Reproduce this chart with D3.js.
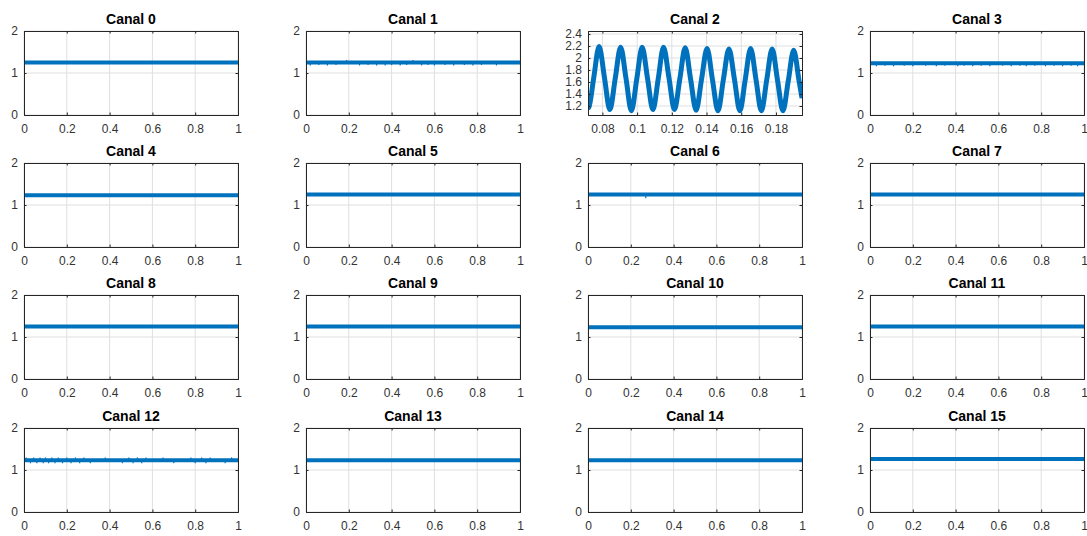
<!DOCTYPE html>
<html>
<head>
<meta charset="utf-8">
<script src="https://cdn.jsdelivr.net/npm/d3@7"></script>
<style>
  body { margin: 0; background: #fff; }
  text { font-family: "Liberation Sans", Arial, sans-serif; }
</style>
</head>
<body>
<script>
// channel titles and the flat level each one sits at (Canal 2 is the sine one)
let titles = ["Canal 0","Canal 1","Canal 2","Canal 3","Canal 4","Canal 5","Canal 6","Canal 7",
              "Canal 8","Canal 9","Canal 10","Canal 11","Canal 12","Canal 13","Canal 14","Canal 15"]
let levels = [1.25, 1.25, null, 1.23, 1.23, 1.25, 1.25, 1.25,
              1.25, 1.25, 1.23, 1.25, 1.23, 1.23, 1.23, 1.26]

// small glitches (time, value at the tip)
let canal1SpikeT = [0.02, 0.06, 0.1, 0.14, 0.19, 0.25, 0.29, 0.33, 0.37, 0.4, 0.44, 0.47, 0.5, 0.54, 0.57, 0.6, 0.65, 0.69, 0.74, 0.78, 0.82, 0.89]
let canal1SpikeV = [1.18, 1.19, 1.18, 1.19, 1.31, 1.18, 1.19, 1.18, 1.18, 1.19, 1.18, 1.19, 1.31, 1.18, 1.19, 1.18, 1.19, 1.18, 1.19, 1.18, 1.19, 1.18]
let canal3SpikeT = [0.03, 0.07, 0.11, 0.16, 0.2, 0.26, 0.31, 0.35, 0.41, 0.44, 0.48, 0.52, 0.56, 0.62, 0.66, 0.7, 0.73, 0.77, 0.82, 0.86, 0.9, 0.94, 0.97]
let canal3SpikeV = [1.16, 1.17, 1.16, 1.17, 1.16, 1.17, 1.16, 1.17, 1.16, 1.17, 1.16, 1.17, 1.16, 1.17, 1.16, 1.17, 1.16, 1.17, 1.16, 1.17, 1.16, 1.17, 1.16]
let canal6SpikeT = [0.27]
let canal6SpikeV = [1.16]
let canal12SpikeT = [0.01, 0.03, 0.045, 0.06, 0.075, 0.09, 0.1, 0.115, 0.13, 0.145, 0.16, 0.18, 0.2, 0.22, 0.24, 0.26, 0.28, 0.31, 0.38, 0.46, 0.49, 0.51, 0.53, 0.55, 0.57, 0.65, 0.7, 0.78, 0.8, 0.83, 0.85, 0.87, 0.94, 0.97]
let canal12SpikeV = [1.30, 1.16, 1.30, 1.16, 1.30, 1.16, 1.30, 1.16, 1.30, 1.16, 1.30, 1.16, 1.30, 1.16, 1.30, 1.16, 1.30, 1.16, 1.30, 1.16, 1.30, 1.16, 1.30, 1.16, 1.30, 1.30, 1.16, 1.30, 1.16, 1.30, 1.16, 1.30, 1.16, 1.30]

// Canal 2: extremes and mid crossings of the oscillation
let canal2T = [0.0717, 0.0722, 0.0750, 0.0781, 0.0812, 0.0843, 0.0874, 0.0905, 0.0936, 0.0967, 0.0998,
               0.1029, 0.1060, 0.1091, 0.1122, 0.1152, 0.1184, 0.1215, 0.1246, 0.1277, 0.1308, 0.1340,
               0.1371, 0.1403, 0.1434, 0.1466, 0.1497, 0.1529, 0.1561, 0.1592, 0.1623, 0.1654, 0.1685,
               0.1716, 0.1747, 0.1778, 0.1809, 0.1840, 0.1871, 0.1902, 0.1933, 0.1950]
let canal2V = [1.17, 1.18, 1.67, 2.19, 1.67, 1.14, 1.66, 2.18, 1.66, 1.12, 1.65,
               2.18, 1.66, 1.14, 1.66, 2.18, 1.66, 1.14, 1.65, 2.17, 1.65, 1.13,
               1.64, 2.16, 1.64, 1.12, 1.64, 2.15, 1.64, 1.12, 1.64, 2.16, 1.64,
               1.12, 1.64, 2.15, 1.63, 1.12, 1.62, 2.13, 1.62, 1.33]

let xTicks = [0, 0.2, 0.4, 0.6, 0.8, 1]
let yTicks = [0, 1, 2]
let canal2XTicks = [0.08, 0.1, 0.12, 0.14, 0.16, 0.18]
let canal2YTicks = [1.2, 1.4, 1.6, 1.8, 2, 2.2, 2.4]
let canal2XDomain = [0.0717, 0.195]
let canal2YDomain = [1.05, 2.45]

let w = 1087
let h = 536
let colLeft = [24, 306, 588, 870]
let rowTop = [31, 163, 295, 428]
let pw = 214
let ph = 84
let blue = "#0072BD"

let svg = d3.select("body").append("svg")
  .attr("width", w)
  .attr("height", h)

let fmt = (d)=> String(+d.toFixed(2))

let spikes = {
  1: [canal1SpikeT, canal1SpikeV],
  3: [canal3SpikeT, canal3SpikeV],
  6: [canal6SpikeT, canal6SpikeV],
  12: [canal12SpikeT, canal12SpikeV]
}

let drawPanel = (k)=>{
  let x0 = colLeft[k % 4]
  let y0 = rowTop[Math.floor(k / 4)]
  let isSine = k === 2

  let xScale = d3.scaleLinear().domain(isSine ? canal2XDomain : [0, 1]).range([x0, x0 + pw])
  let yScale = d3.scaleLinear().domain(isSine ? canal2YDomain : [0, 2]).range([y0 + ph, y0])
  let xt = isSine ? canal2XTicks : xTicks
  let yt = isSine ? canal2YTicks : yTicks

  let g = svg.append("g")

  // grid
  g.selectAll(".gx").data(xt).enter().append("line")
    .attr("x1", (d)=>xScale(d)).attr("x2", (d)=>xScale(d))
    .attr("y1", y0).attr("y2", y0 + ph)
    .attr("stroke", "#dfdfdf").attr("stroke-width", 1)
  g.selectAll(".gy").data(yt).enter().append("line")
    .attr("x1", x0).attr("x2", x0 + pw)
    .attr("y1", (d)=>yScale(d)).attr("y2", (d)=>yScale(d))
    .attr("stroke", "#dfdfdf").attr("stroke-width", 1)

  // data
  let clipId = "clip" + k
  svg.append("clipPath").attr("id", clipId)
    .append("rect").attr("x", x0).attr("y", y0).attr("width", pw).attr("height", ph)

  let pts = isSine ? canal2T.map((t, i)=>[t, canal2V[i]]) : [[0, levels[k]], [1, levels[k]]]

  let line = d3.line()
    .x((d)=>xScale(d[0]))
    .y((d)=>yScale(d[1]))
    .curve(isSine ? d3.curveMonotoneX : d3.curveLinear)

  g.append("path")
    .attr("d", line(pts))
    .attr("fill", "none")
    .attr("stroke", blue)
    .attr("stroke-width", isSine ? 5 : 4)
    .attr("stroke-linejoin", "round")
    .attr("clip-path", "url(#" + clipId + ")")

  if(spikes[k]){
    let st = spikes[k][0], sv = spikes[k][1]
    g.selectAll(".spike").data(st).enter().append("line")
      .attr("x1", (d)=>xScale(d)).attr("x2", (d)=>xScale(d))
      .attr("y1", yScale(levels[k]))
      .attr("y2", (d, i)=>yScale(sv[i]))
      .attr("stroke", blue)
      .attr("stroke-width", 1.2)
  }

  // axes, ticks inside like matlab
  let xAxis = d3.axisBottom(xScale).tickValues(xt).tickSize(-2.5).tickPadding(9).tickFormat(fmt)
  let xa = g.append("g").attr("transform", "translate(0," + (y0 + ph) + ")").call(xAxis)
  let xTop = d3.axisTop(xScale).tickValues(xt).tickSize(-2.5).tickFormat("")
  let xb = g.append("g").attr("transform", "translate(0," + y0 + ")").call(xTop)
  let yAxis = d3.axisLeft(yScale).tickValues(yt).tickSize(-2.5).tickPadding(6).tickFormat(fmt)
  let ya = g.append("g").attr("transform", "translate(" + x0 + ",0)").call(yAxis)
  let yRight = d3.axisRight(yScale).tickValues(yt).tickSize(-2.5).tickFormat("")
  let yb = g.append("g").attr("transform", "translate(" + (x0 + pw) + ",0)").call(yRight)

  ;[xa, xb, ya, yb].forEach((a)=>{
    a.select(".domain").attr("stroke", "#262626").attr("stroke-width", 1)
    a.selectAll(".tick line").attr("stroke", "#262626")
    a.selectAll(".tick text")
      .attr("fill", "#333")
      .style("font-size", "12px")
      .style("font-family", "'Liberation Sans', Arial, sans-serif")
  })

  // title
  g.append("text")
    .text(titles[k])
    .attr("x", x0 + pw / 2)
    .attr("y", y0 - 7.5)
    .attr("text-anchor", "middle")
    .attr("fill", "#000")
    .style("font-size", "14px")
    .style("font-weight", "bold")
}

titles.forEach((t, k)=> drawPanel(k))
</script>
</body>
</html>
